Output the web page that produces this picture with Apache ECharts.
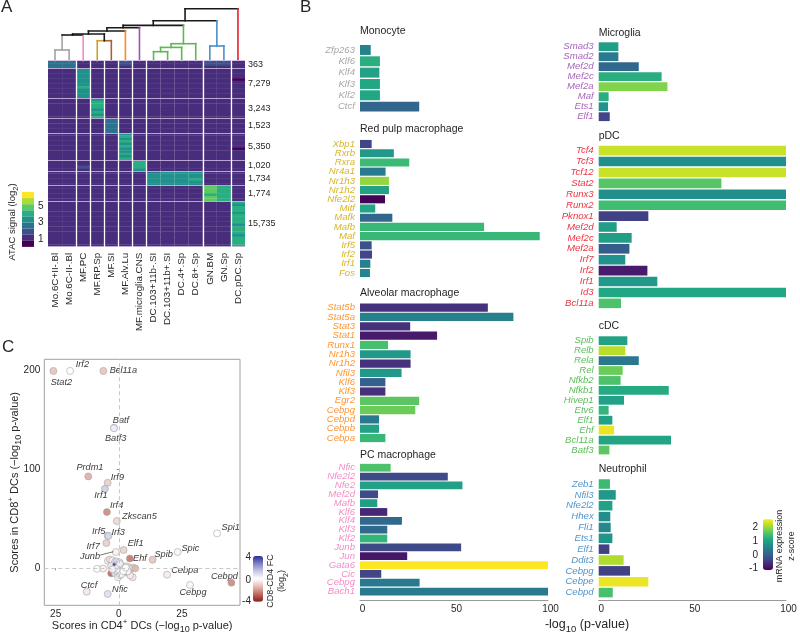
<!DOCTYPE html>
<html><head><meta charset="utf-8">
<script src="https://cdn.jsdelivr.net/npm/echarts@6/dist/echarts.min.js"></script>
<style>html,body{margin:0;padding:0;background:#fff}#c{width:800px;height:633px}</style></head>
<body><div id="c"></div>
<script>
const FONT = '"Liberation Sans", Arial, sans-serif';
const viridis = ['#440154','#482475','#414487','#355f8d','#2a788e','#21918c','#22a884','#44bf70','#7ad151','#bddf26','#fde725'];

/* ---------- Panel A ---------- */
const heatColumns = ['Mo.6C+II-.Bl','Mo.6C-II-.Bl','MF.PC','MF.RP.Sp','MF.SI','MF.Alv.Lu','MF.microglia.CNS','DC.103+11b-.SI','DC.103+11b+.SI','DC.4+.Sp','DC.8+.Sp','GN.BM','GN.Sp','DC.pDC.Sp'];
const clusterLabels = ['363','7,279','3,243','1,523','5,350','1,020','1,734','1,774','15,735'];
const clusterRows = [7.6,30,20.4,14.3,27,11,14.7,15.3,45.7];
const heatMatrix = [
 [2.7,2.7,1.3,1.4,1.3,1.5,1.4,1.2,1.2,1.2,1.2,1.5,1.5,1.0],
 [1.1,1.1,3.5,1.0,0.9,1.0,1.1,0.95,0.95,0.95,0.95,1.1,1.1,0.85],
 [1.1,1.1,1.2,3.8,1.0,1.1,1.1,1.0,1.0,1.0,1.0,1.1,1.1,0.9],
 [1.3,1.3,1.2,1.2,2.7,1.0,1.1,1.3,1.3,1.2,1.2,1.2,1.2,0.9],
 [1.0,1.0,1.1,1.0,0.9,3.7,1.2,0.9,0.9,0.9,0.9,1.0,1.0,0.85],
 [1.1,1.1,1.4,1.3,1.1,1.0,3.9,1.0,1.0,1.0,1.0,1.2,1.2,1.1],
 [1.1,1.1,0.85,1.0,0.85,0.85,1.0,3.1,3.2,3.3,3.5,1.1,1.1,1.2],
 [1.2,1.2,0.9,0.85,0.9,0.9,1.1,0.9,0.9,0.9,0.9,4.6,4.2,0.85],
 [1.1,1.1,1.1,1.1,1.0,1.0,1.1,1.0,1.0,1.0,1.0,1.1,1.1,3.9]
];
const rowStripes = [
 [0,0.1,-0.1],
 [0.1,-0.2,0,0.2,-0.3,0.1,0,0.3,-0.2,0.1,-0.1,0.2],
 [-0.2,0.1,0.3,0,-0.1,0.2,-0.3,0.1],
 [0.2,-0.1,0,0.2,-0.2,0.1],
 [0,0.2,-0.2,0.1,-0.1,0.3,-0.3,0,0.2,-0.1,0.1],
 [0.1,-0.1,0.2,-0.2],
 [-0.2,0.2,0,0.3,-0.1,0.1],
 [0.1,-0.1,0.2,-0.2,0.1,0],
 [0,-0.2,0.3,0.1,-0.3,0.2,0,-0.1,0.3,-0.2,0.1,0,0.3,-0.3,0.1,0.2,-0.1,0]
];
const atacPieces = [[6,6.75,'#fde725'],[5.25,6,'#addc30'],[4.5,5.25,'#5ec962'],[3.75,4.5,'#28ae80'],[3,3.75,'#21918c'],[2.25,3,'#2c728e'],[1.5,2.25,'#3b528b'],[0.75,1.5,'#472d7b'],[0,0.75,'#440154']];
/* dendrogram segments: x1,height1,x2,height2,colour (x in column index) */
const K='#1a1a1a',GR='#a3a3a3',GN='#5cbb50',BL='#4a90c8';
const dendroSegments = [
 [0,0,0,10.7,GR],[1,0,1,10.7,GR],[0,10.7,1,10.7,GR],[0.5,10.7,0.5,25.7,GR],
 [0.5,25.7,2,25.7,K],[2,0,2,25.7,'#f08cc4'],
 [3,0,3,20,'#c9a227'],[4,0,4,20,'#a8603c'],[3,20,3.5,20,'#c9a227'],[3.5,20,4,20,'#a8603c'],[3.5,20,3.5,26.7,K],
 [1.25,25.7,1.25,26.7,K],[1.25,26.7,3.5,26.7,K],
 [2.375,26.7,2.375,29.7,K],[2.375,29.7,5,29.7,K],[5,0,5,29.7,'#ff8c1a'],
 [3.69,29.7,3.69,33,K],[3.69,33,6,33,K],[6,0,6,33,'#a050b8'],
 [4.84,33,4.84,35.3,K],[4.84,35.3,9.125,35.3,K],
 [7,0,7,9,GN],[8,0,8,9,GN],[7,9,8,9,GN],[7.5,9,7.5,13.3,GN],[7.5,13.3,9,13.3,GN],[9,0,9,13.3,GN],
 [8.25,13.3,8.25,17,GN],[8.25,17,10,17,GN],[10,0,10,17,GN],[9.125,17,9.125,35.3,GN],
 [6.98,35.3,6.98,40,K],[6.98,40,11.5,40,K],
 [11,0,11,14.7,BL],[12,0,12,14.7,BL],[11,14.7,12,14.7,BL],[11.5,14.7,11.5,40,BL],
 [9.24,40,9.24,52,K],[9.24,52,13,52,K],[13,0,13,52,'#e8202a']
];
const columnGroupEnds = [1.5,2.5,3.5,4.5,5.5,6.5,10.5,12.5];

/* ---------- Panel B: gene, -log10 p, mRNA z-score ---------- */
const monocyteGenes=['Zfp263','Klf6','Klf4','Klf3','Klf2','Ctcf'];
const monocyteP=[5.7,10.6,10.3,10.6,10.6,31.5];
const monocyteZ=[0.5,1.2,1.0,1.1,1.1,0.1];
const redPulpGenes=['Xbp1','Rxrb','Rxra','Nr4a1','Nr1h3','Nr1h2','Nfe2l2','Mitf','Mafk','Mafb','Maf','Irf5','Irf2','Irf1','Fos'];
const redPulpP=[6.2,18,26.2,13.6,15.4,15.4,13.3,8.1,17.2,66,95.6,6.2,6.4,5.5,5.3];
const redPulpZ=[-0.35,0.85,1.4,0.4,2.0,1.0,-1.1,1.05,0.1,1.35,1.35,-0.2,-0.35,0.5,0.55];
const alveolarGenes=['Stat5b','Stat5a','Stat3','Stat1','Runx1','Nr1h3','Nr1h2','Nfil3','Klf6','Klf3','Egr2','Cebpg','Cebpd','Cebpb','Cebpa'];
const alveolarP=[68,81.6,26.7,41,14.9,26.9,26.9,22.1,13.5,13.5,31.5,29.4,10.1,10.1,13.5];
const alveolarZ=[-0.6,0.5,-0.6,-0.85,1.5,0.85,-0.6,0.85,0,-0.6,1.65,1.75,0.4,1.0,1.35];
const pcGenes=['Nfic','Nfe2l2','Nfe2','Mef2d','Mafb','Klf6','Klf4','Klf3','Klf2','Junb','Jun','Gata6','Cic','Cebpg','Bach1'];
const pcP=[16.3,46.7,54.5,9.6,9.2,14.5,22.3,14.5,14.5,53.8,25.1,100,11.3,31.7,100];
const pcZ=[1.55,-0.3,1.0,-0.3,0.95,-0.7,0.15,0.15,1.3,-0.3,-0.9,2.6,-0.35,0.4,0.4];
const microgliaGenes=['Smad3','Smad2','Mef2d','Mef2c','Mef2a','Maf','Ets1','Elf1'];
const microgliaP=[10.5,10.5,21.4,33.6,36.7,5.3,5,5.9];
const microgliaZ=[0.95,0.4,0.15,1.2,1.9,1.2,0.75,-0.35];
const pdcGenes=['Tcf4','Tcf3','Tcf12','Stat2','Runx3','Runx2','Pknox1','Mef2d','Mef2c','Mef2a','Irf7','Irf2','Irf1','Id3','Bcl11a'];
const pdcP=[100,100,100,65.5,100,100,26.5,9.6,17.6,16.4,14.2,26,31.3,100,11.9];
const pdcZ=[2.3,0.72,2.3,1.6,0.72,1.45,-0.4,0.95,0.95,-0.05,0.75,-0.85,0.85,1.1,1.55];
const cdcGenes=['Spib','Relb','Rela','Rel','Nfkb2','Nfkb1','Hivep1','Etv6','Elf1','Ehf','Bcl11a','Batf3'];
const cdcP=[15.3,14.2,21.4,12.8,11.7,37.4,13.5,5.3,7.3,8.2,38.6,5.7];
const cdcZ=[1.0,2.2,0.35,1.75,1.55,1.15,1.0,1.3,1.0,2.5,1.05,1.65];
const neutrophilGenes=['Zeb1','Nfil3','Nfe2l2','Hhex','Fli1','Ets1','Elf1','Ddit3','Cebpg','Cebpe','Cebpd'];
const neutrophilP=[6,9.1,7.3,6.2,6.4,7.3,5.7,13.3,16.7,26.5,7.5];
const neutrophilZ=[1.4,0.85,1.0,0.7,0.6,0.8,-0.4,2.15,-0.4,2.5,1.5];
const xTicks=[0,50,100];

/* ---------- Panel C ---------- */
const tfNames=['Stat2','Irf2','Bcl11a','Batf','Batf3','Prdm1','Irf9','Irf1','Irf4','Zkscan5','Spi1','Irf5','Irf3','Irf7','Junb','Elf1','Ehf','Spib','Spic','Cebpa','Cebpg','Cebpd','Ctcf','Nfic'];
const tfCD4=[-25.9,-19.3,-6.1,-1.9,-1.9,-12.1,-4.4,-5.5,-4.7,-0.8,38.9,-4.4,-4.1,-4.9,-1.2,1.9,4.4,13.4,23.3,19.1,28.2,44.6,-12.7,-4.4];
const tfCD8=[199.3,199.3,199.3,141.8,141.4,92.8,86.4,80.3,56.8,47.7,35.3,33,32.7,25.5,16.5,18.5,10,8.7,16.5,-6.4,-16.8,-14.5,-23.5,-25.9];
const tfFC=[-1.2,0,-1.2,0.8,0.4,-1.6,-1,1.2,-2.2,-0.8,0,1,1,-1,-0.3,-0.9,-2.5,-1.2,-0.2,-0.4,-0.2,-2.2,-0.5,0.8];
const tfLabelDx=[8,12.3,20,7,1.7,1.7,9.7,-4,9.7,22.7,13.7,-9,9.7,-13.3,-25.7,12,10,11,12.7,17.7,3,-7,2.3,12.3];
const tfLabelDy=[11.7,-6,-0.7,-7.3,10,-8.7,-5,7,-6.3,-4.3,-6,-4,-3.3,3,4.7,-6.7,0,-5,-3.7,-4.3,7,-6.7,-6.3,-4.3];
const bgCD4=[-8.6,-6.2,-4.3,-3.5,-2.5,-1.5,-0.8,0.3,-3,-1,0,1,2,3,4,5.5,6.5,-3,-1.5,-0.5,1,2.5,4,5.5,4.5,-0.3,0.5,1.5,2,1.5,2.5,3,-0.8,0,-1.5,-2.5,3.5,1,0.5,2,2.2,1.8,2.8,-1.8];
const bgCD8=[-0.5,-0.2,7.5,9,8,6.5,7,6,2.5,3,2.5,3,1,2,1,0.5,0,-5,-5,-4.5,-4,-3.5,-5,-9,-7,-9,-7,-1,-2,1,-0.5,-1.5,0,-1.5,1,-1,-3,-6,4.5,-1,0.2,-2.8,0.8,4];
const bgFC=[0,-0.3,-0.4,-0.6,-0.2,0.6,0.8,0.2,-0.5,0.8,0.3,0.1,0,-0.3,-0.5,-0.8,-1.5,-2.8,0.5,0.7,0.2,-0.3,-2,-0.5,-0.4,0.2,0.1,0,0,0,0,0,0,0,0.2,0.3,0.1,0.3,0.4,0,0,0,0,4];
const fcStops=['#8c1c16','#c06a62','#e6bcb4','#ffffff','#c8c8e6','#8080c4','#2c2c9c'];

/* ---------- build ---------- */
const TXT='#262626', AX='#9a9a9a';
const title=[], grid=[], xAxis=[], yAxis=[], series=[], graphic=[];
function addGrid(o){ grid.push(Object.assign({outerBoundsMode:'none',containLabel:false},o)); }
function caption(text,left,cy,size,color){ title.push({text,left,top:cy-size/2-1,padding:0,textStyle:{fontFamily:FONT,fontSize:size,fontWeight:'normal',color:color||TXT}}); }
function free(text,x,y,opt){ opt=opt||{}; graphic.push({type:'text',x,y,rotation:opt.rot||0,silent:true,style:{text,fontFamily:FONT,fontSize:opt.size||10,fill:opt.color||TXT,align:opt.align||'center',verticalAlign:'middle',rich:opt.rich}}); }
caption('A',1,8,17); caption('B',300,8,17); caption('C',2,348,17);

/* heatmap grid 0 */
addGrid({left:48,top:60.7,width:197,height:186});
xAxis.push({type:'value',gridIndex:0,min:-0.5,max:13.5,splitLine:{show:false},axisLine:{show:false},axisTick:{show:false},
  axisLabel:{customValues:heatColumns.map((_,i)=>i),formatter:v=>heatColumns[v],rotate:90,margin:6,fontSize:9.8,fontFamily:FONT,color:TXT,showMinLabel:true,showMaxLabel:true}});
const clusterTotal=clusterRows.reduce((a,b)=>a+b,0);
const clusterStarts=[]; clusterRows.reduce((s,h,i)=>{clusterStarts[i]=s;return s+h;},0);
const clusterCenters=clusterRows.map((h,i)=>clusterStarts[i]+h/2);
yAxis.push({type:'value',gridIndex:0,inverse:true,min:0,max:clusterTotal,position:'right',splitLine:{show:false},axisLine:{show:false},axisTick:{show:false},
  axisLabel:{customValues:clusterCenters,formatter:v=>clusterLabels[clusterCenters.findIndex(c=>Math.abs(c-v)<1e-6)],margin:3,align:'left',fontSize:9,fontFamily:FONT,color:TXT}});
const heatData=[];
heatMatrix.forEach((row,ci)=>{const st=rowStripes[ci],h=clusterRows[ci]/st.length;
  st.forEach((o,ri)=>row.forEach((v,col)=>heatData.push([col,clusterStarts[ci]+ri*h,clusterStarts[ci]+(ri+1)*h,v<2?v+o*0.5:v+o])));});
const hLines=clusterStarts.map(v=>({yAxis:v})).concat([{yAxis:clusterTotal}]);
series.push({type:'custom',xAxisIndex:0,yAxisIndex:0,data:heatData,silent:true,encode:{x:0,y:[1,2]},clip:true,
  renderItem(p,api){const a=api.coord([api.value(0)-0.5,api.value(1)]),b=api.coord([api.value(0)+0.5,api.value(2)]);
    return {type:'rect',shape:{x:a[0],y:a[1],width:b[0]-a[0],height:b[1]-a[1]+0.4},style:{fill:api.visual('color')}};},
  markLine:{silent:true,symbol:'none',animation:false,label:{show:false},precision:4,
    data:[...hLines.map(d=>({...d,lineStyle:{color:'rgba(205,185,225,0.85)',width:1,type:'solid'}})),
          ...columnGroupEnds.map(v=>({xAxis:v,lineStyle:{color:'#ffffff',width:1.3,type:'solid'}}))]}});

/* dendrogram grid 1 */
addGrid({left:48,top:8,width:197,height:52.7});
xAxis.push({type:'value',gridIndex:1,min:-0.5,max:13.5,show:false});
yAxis.push({type:'value',gridIndex:1,min:0,max:52.7,show:false});
series.push({type:'custom',xAxisIndex:1,yAxisIndex:1,data:dendroSegments,silent:true,clip:false,encode:{x:[0,2],y:[1,3]},
  renderItem(p,api){const s=dendroSegments[p.dataIndex],a=api.coord([s[0],s[1]]),b=api.coord([s[2],s[3]]);
    return {type:'line',shape:{x1:a[0],y1:a[1],x2:b[0],y2:b[1]},style:{stroke:s[4],lineWidth:1.6,lineCap:'square'}};}});

/* bars */
function barPanel(name,color,genes,p,z,left,width,top,bottom,axis,tx,ty){
  const g=grid.length; addGrid({left,width,top,height:bottom-top});
  caption(name,tx,ty,10.5);
  xAxis.push({type:'value',gridIndex:g,min:0,max:100,show:axis,offset:axis?600-bottom:0,splitLine:{show:false},axisTick:{show:false},
    axisLine:{show:true,onZero:false,lineStyle:{color:AX,width:1}},
    axisLabel:{customValues:xTicks,margin:4,fontSize:10,fontFamily:FONT,color:TXT,padding:[0,0,0,5]}});
  yAxis.push({type:'category',gridIndex:g,inverse:true,data:genes,axisLine:{show:false},axisTick:{show:false},splitLine:{show:false},
    axisLabel:{interval:0,margin:5,fontSize:9.6,fontStyle:'italic',fontFamily:FONT,color}});
  series.push({type:'bar',xAxisIndex:g,yAxisIndex:g,barWidth:'88%',silent:true,data:p.map((v,i)=>[v,genes[i],z[i]]),encode:{x:0,y:1},
    itemStyle:{borderColor:'rgba(255,255,255,0)',borderWidth:0}});
  return series.length-1;
}
const L=360,W=188,R=598.7,WR=187.3;
const barSeries=[
 barPanel('Monocyte','#a8a8a8',monocyteGenes,monocyteP,monocyteZ,L,W,44.3,112.3,false,L,32),
 barPanel('Red pulp macrophage','#d8b526',redPulpGenes,redPulpP,redPulpZ,L,W,139.4,277.6,false,L,130),
 barPanel('Alveolar macrophage','#ff9633',alveolarGenes,alveolarP,alveolarZ,L,W,303,442.7,false,L,294.3),
 barPanel('PC macrophage','#f48cc8',pcGenes,pcP,pcZ,L,W,463.3,596,true,L,455.7),
 barPanel('Microglia','#a866bc',microgliaGenes,microgliaP,microgliaZ,R,WR,41.7,121.7,false,R,34),
 barPanel('pDC','#ee3340',pdcGenes,pdcP,pdcZ,R,WR,145.2,308.8,false,R,136.7),
 barPanel('cDC','#5cbd5c',cdcGenes,cdcP,cdcZ,R,WR,335.7,455,false,R,327.3),
 barPanel('Neutrophil','#4f94cc',neutrophilGenes,neutrophilP,neutrophilZ,R,WR,478.6,598,true,R,470)
];
const sub={fontFamily:FONT,fontSize:8.5,verticalAlign:'bottom',padding:[0,0,-3,0],color:TXT};
free('{a|-log}{s|10}{a| (p-value)}',587,625,{rich:{a:{fontFamily:FONT,fontSize:12.5,color:TXT},s:{...sub,fontSize:9.5}}});

/* scatter */
const gs=grid.length; addGrid({left:44.3,top:359.3,width:195.7,height:246,show:true,borderColor:'#a0a0a0',borderWidth:1,backgroundColor:'#fff'});
const nameRich={a:{fontFamily:FONT,fontSize:11,color:TXT},s:{...sub,fontSize:9},u:{fontFamily:FONT,fontSize:8,verticalAlign:'top',color:TXT,padding:[-3,0,0,0]}};
xAxis.push({type:'value',gridIndex:gs,min:-29.5,max:48,splitLine:{show:false},axisLine:{show:false},axisTick:{show:true,customValues:[-25,0,25],length:2,lineStyle:{color:'#888'}},
  name:'{a|Scores in CD4}{u|+}{a| DCs (−log}{s|10}{a| p-value)}',nameLocation:'middle',nameGap:15,nameMoveOverlap:false,nameTextStyle:{rich:nameRich},
  axisLabel:{customValues:[-25,0,25],formatter:v=>String(Math.abs(v)),margin:4,fontSize:10,fontFamily:FONT,color:TXT}});
yAxis.push({type:'value',gridIndex:gs,min:-37.3,max:211,splitLine:{show:false},axisLine:{show:false},axisTick:{show:true,customValues:[0,100,200],length:2,lineStyle:{color:'#888'}},
  name:'{a|Scores in CD8}{u|+}{a| DCs (−log}{s|10}{a| p-value)}',nameLocation:'middle',nameGap:24,nameMoveOverlap:false,nameRotate:90,nameTextStyle:{rich:nameRich},
  axisLabel:{customValues:[0,100,200],margin:4,fontSize:10,fontFamily:FONT,color:TXT}});
const pts=[];
bgCD4.forEach((x,i)=>pts.push({value:[x,bgCD8[i],bgFC[i]]}));
tfNames.forEach((n,i)=>pts.push({name:n,value:[tfCD4[i],tfCD8[i],tfFC[i]],label:{show:true,formatter:n,position:'inside',offset:[tfLabelDx[i],tfLabelDy[i]],fontSize:9.2,fontStyle:'italic',fontFamily:FONT,color:TXT}}));
const dashed={color:'#c8c8c8',width:1.1,type:[4,3]};
const scatterIdx=series.length;
series.push({type:'scatter',xAxisIndex:gs,yAxisIndex:gs,data:pts,silent:true,clip:false,symbolSize:d=>d[2]>3?3:7,
  itemStyle:{borderColor:'#a8a8a8',borderWidth:0.7,opacity:0.9},
  markLine:{silent:true,symbol:'none',animation:false,label:{show:false},precision:4,
    data:[{xAxis:0,lineStyle:dashed},{yAxis:0,lineStyle:dashed},
      [{coord:[-7.4,13.4],lineStyle:{color:'#555',width:0.8,type:'solid'}},{coord:[-2.1,16.8]}]]}});

/* legends */
const visualMap=[
 {type:'piecewise',seriesIndex:[0],dimension:3,left:22,top:192,padding:0,itemWidth:12,itemHeight:6.1,itemGap:0,showLabel:false,selectedMode:false,itemSymbol:'rect',hoverLink:false,
  pieces:atacPieces.map(p=>({gte:p[0],lt:p[1],color:p[2]}))},
 {type:'continuous',seriesIndex:barSeries,dimension:2,min:-1.12,max:2.6,left:763,top:519.3,padding:0,itemWidth:10,itemHeight:50.7,calculable:false,showLabel:false,text:null,hoverLink:false,realtime:false,inRange:{color:viridis}},
 {type:'continuous',seriesIndex:[scatterIdx],dimension:2,min:-4,max:4,left:253,top:556,padding:0,itemWidth:10,itemHeight:45.7,calculable:false,showLabel:false,text:null,hoverLink:false,realtime:false,inRange:{color:fcStops}}
];
[['5',206],['3',222.5],['1',239]].forEach(t=>free(t[0],38,t[1],{align:'left',size:10}));
free('{a|ATAC signal (log}{s|2}{a|)}',12,222,{rot:Math.PI/2,rich:{a:{fontFamily:FONT,fontSize:9.5,color:TXT},s:{...sub,fontSize:7.5}}});
[['2',527.7],['1',541.7],['0',555],['-1',568.3]].forEach(t=>free(t[0],758,t[1],{align:'right',size:10}));
free('mRNA expression',780,546,{rot:Math.PI/2,size:9});
free('z-score',791.5,546,{rot:Math.PI/2,size:9});
[['4',557],['0',580],['-4',601]].forEach(t=>free(t[0],251,t[1],{align:'right',size:10}));
free('CD8-CD4 FC',270.5,581,{rot:Math.PI/2,size:9});
free('{a|(log}{s|2}{a|)}',282,581,{rot:Math.PI/2,rich:{a:{fontFamily:FONT,fontSize:9,color:TXT},s:{...sub,fontSize:7}}});

const chart=echarts.init(document.getElementById('c'),null,{renderer:'canvas',width:800,height:633});
chart.setOption({animation:false,backgroundColor:'#fff',textStyle:{fontFamily:FONT},title,grid,xAxis,yAxis,series,visualMap,graphic,tooltip:{show:false},legend:{show:false}});
</script></body></html>
